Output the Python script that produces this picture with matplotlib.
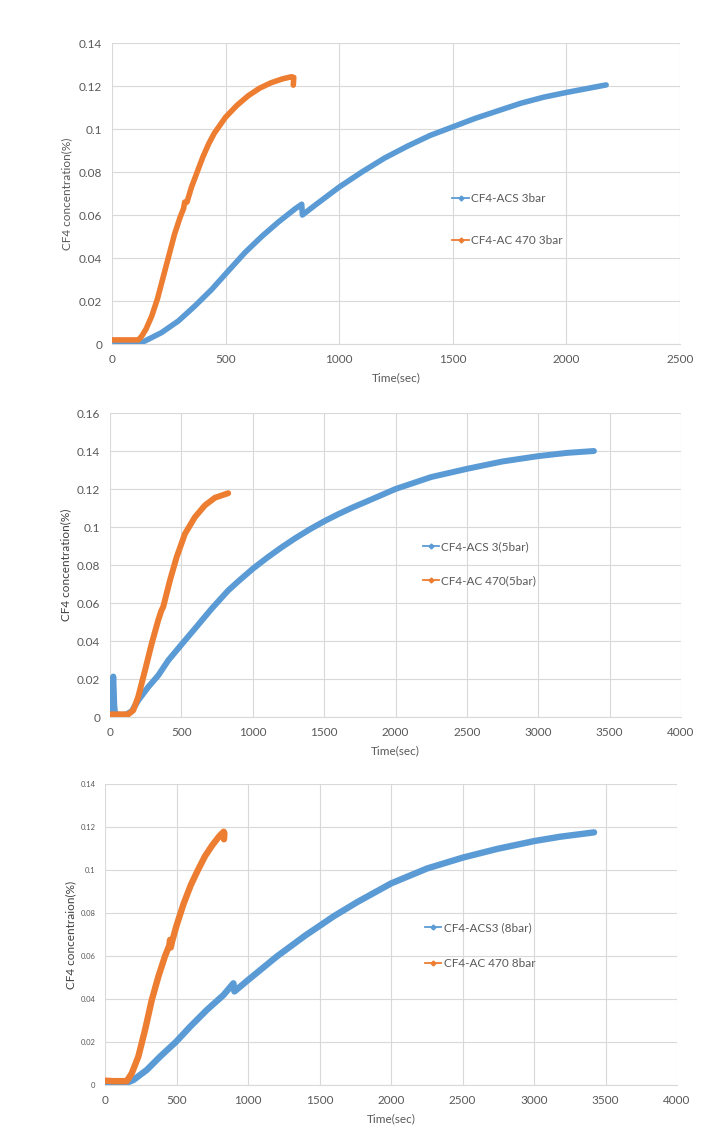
import matplotlib
matplotlib.use("Agg")
import matplotlib.pyplot as plt
from matplotlib.lines import Line2D

# ---------------- data ----------------
# Panel 1 (3 bar)
p1_blue_t = [0, 60, 110, 145, 218, 292, 365, 439, 512, 585, 659, 732, 805, 835, 838, 893,
             1000, 1100, 1200, 1300, 1400, 1500, 1600, 1700, 1800, 1900, 2000, 2100, 2175]
p1_blue_c = [0.0014, 0.0008, 0.0003, 0.0014, 0.0053, 0.0107, 0.0177, 0.0254, 0.0340, 0.0425,
             0.0500, 0.0567, 0.0628, 0.0650, 0.0600, 0.0645, 0.0730, 0.0800, 0.0865, 0.0920,
             0.0970, 0.1010, 0.1050, 0.1085, 0.1120, 0.1148, 0.1170, 0.1190, 0.1205]
p1_orange_t = [0, 60, 116, 130, 150, 175, 200, 225, 250, 275, 300, 315, 320, 330, 350, 375,
               400, 425, 450, 500, 550, 600, 650, 700, 750, 790, 800, 798]
p1_orange_c = [0.0019, 0.0019, 0.0019, 0.0035, 0.0070, 0.0130, 0.0210, 0.0310, 0.0410, 0.0510,
               0.0590, 0.0630, 0.0660, 0.0660, 0.0730, 0.0800, 0.0870, 0.0930, 0.0980, 0.1055,
               0.1110, 0.1155, 0.1190, 0.1215, 0.1233, 0.1243, 0.1240, 0.1204]

# Panel 2 (5 bar)
p2_blue_t = [0, 15, 20, 23, 26, 30, 36, 60, 110, 152, 198, 268, 338, 408, 506, 595, 712, 828,
             900, 1000, 1100, 1200, 1300, 1400, 1500, 1600, 1700, 1800, 2000, 2250, 2500,
             2750, 3000, 3200, 3390]
p2_blue_c = [0.0014, 0.0030, 0.0160, 0.0213, 0.0150, 0.0060, 0.0020, 0.0012, 0.0012, 0.0030,
             0.0088, 0.0158, 0.0219, 0.0298, 0.0386, 0.0465, 0.0570, 0.0666, 0.0715, 0.0780,
             0.0838, 0.0892, 0.0942, 0.0988, 0.1030, 0.1068, 0.1103, 0.1135, 0.1200, 0.1263,
             0.1306, 0.1345, 0.1373, 0.1390, 0.1400]
p2_orange_t = [0, 60, 128, 163, 198, 245, 292, 338, 360, 373, 420, 467, 525, 595, 665, 735,
               828]
p2_orange_c = [0.0014, 0.0014, 0.0014, 0.0035, 0.0107, 0.0245, 0.0386, 0.0510, 0.0560, 0.0580,
               0.0719, 0.0842, 0.0964, 0.1052, 0.1114, 0.1154, 0.1178]

# Panel 3 (8 bar)
p3_blue_t = [0, 60, 128, 198, 292, 385, 497, 595, 712, 828, 898, 905, 1000, 1200, 1400, 1500,
             1600, 1762, 2002, 2252, 2504, 2742, 3005, 3185, 3420]
p3_blue_c = [0.0004, 0.0004, 0.0004, 0.0023, 0.0070, 0.0132, 0.0201, 0.0271, 0.0349, 0.0418,
             0.0473, 0.0435, 0.0488, 0.0597, 0.0695, 0.0740, 0.0785, 0.0850, 0.0938, 0.1007,
             0.1058, 0.1098, 0.1135, 0.1155, 0.1175]
p3_orange_t = [0, 60, 152, 187, 233, 280, 327, 373, 420, 450, 455, 460, 470, 502, 548, 600,
               650, 700, 750, 800, 830, 835, 832]
p3_orange_c = [0.0020, 0.0018, 0.0018, 0.0054, 0.0132, 0.0256, 0.0395, 0.0504, 0.0600, 0.0650,
               0.0675, 0.0640, 0.0670, 0.0745, 0.0840, 0.0930, 0.1000, 0.1065, 0.1115, 0.1158,
               0.1178, 0.1170, 0.1143]

labels1 = ["CF4-ACS 3bar", "CF4-AC 470 3bar"]
labels2 = ["CF4-ACS 3(5bar)", "CF4-AC 470(5bar)"]
labels3 = ["CF4-ACS3 (8bar)", "CF4-AC 470 8bar"]
ylabels = ["CF4 concentration(%)", "CF4 concentration(%)", "CF4 concentraion(%)"]
xlabel = "Time(sec)"

# ---------------- style ----------------
plt.rcParams['font.family'] = ['Lato', 'DejaVu Sans']
BLUE = "#5B9BD5"
ORANGE = "#ED7D31"
GRID = "#D9D9D9"
TXT = "#595959"

fig = plt.figure(figsize=(7.28, 11.27), dpi=100)

W, H = 728.0, 1127.0
def axbox(l, r, t, b):
    return [l / W, 1 - b / H, (r - l) / W, (b - t) / H]

panels = [
    dict(box=axbox(112, 680, 43, 344), xmax=2500, ymax=0.14, lw=4.0,
         data=[(p1_blue_t, p1_blue_c), (p1_orange_t, p1_orange_c)], labels=labels1,
         ylab=ylabels[0], ytick_fs=8.5, ylab_color=TXT, ylab_px=67,
         leg=(0.589, 0.521), legsp=2.6, xlab_px=378),
    dict(box=axbox(110, 681, 413, 717), xmax=4000, ymax=0.16, lw=4.3,
         data=[(p2_blue_t, p2_blue_c), (p2_orange_t, p2_orange_c)], labels=labels2,
         ylab=ylabels[1], ytick_fs=8.5, ylab_color="#404040", ylab_px=66,
         leg=(0.537, 0.597), legsp=1.92, xlab_px=751),
    dict(box=axbox(105, 677, 784, 1085), xmax=4000, ymax=0.14, lw=4.6,
         data=[(p3_blue_t, p3_blue_c), (p3_orange_t, p3_orange_c)], labels=labels3,
         ylab=ylabels[2], ytick_fs=5.5, ylab_color="#404040", ylab_px=71,
         leg=(0.549, 0.561), legsp=2.14, xlab_px=1119),
]

for p in panels:
    ax = fig.add_axes(p["box"])
    l, b, w, h = p["box"]
    (bt, bc), (ot, oc) = p["data"]
    ax.plot(bt, bc, color=BLUE, lw=p["lw"], solid_capstyle='round', solid_joinstyle='round', zorder=3)
    ax.plot(ot, oc, color=ORANGE, lw=p["lw"], solid_capstyle='round', solid_joinstyle='round', zorder=4)
    ax.set_xlim(0, p["xmax"])
    ax.set_ylim(0, p["ymax"])
    xt = list(range(0, p["xmax"] + 1, 500))
    ax.set_xticks(xt)
    ax.set_xticklabels([str(v) for v in xt])
    n = int(round(p["ymax"] / 0.02))
    yt = [round(i * 0.02, 2) for i in range(n + 1)]
    ax.set_yticks(yt)
    ax.set_yticklabels(["0" if v == 0 else ("%g" % v) for v in yt])
    ax.grid(True, color=GRID, lw=0.8)
    ax.set_axisbelow(True)
    for s in ["top", "right", "left"]:
        ax.spines[s].set_visible(False)
    ax.spines["bottom"].set_color(GRID)
    ax.spines["bottom"].set_linewidth(0.8)
    ax.tick_params(axis='both', length=0, colors=TXT)
    ax.tick_params(axis='x', labelsize=8.5, pad=7)
    ax.tick_params(axis='y', labelsize=p["ytick_fs"], pad=7)
    ax.set_xlabel(xlabel, fontsize=8.5, color=TXT)
    xlab_y = ((1 - p["xlab_px"] / H) - b) / h
    ax.xaxis.set_label_coords(0.5, xlab_y)
    ax.xaxis.label.set_verticalalignment('center')
    ax.set_ylabel(p["ylab"], fontsize=8.5, color=p["ylab_color"])
    ylab_x = (p["ylab_px"] / W - l) / w
    ax.yaxis.set_label_coords(ylab_x, 0.5)
    ax.yaxis.label.set_verticalalignment('center')
    handles = [Line2D([0], [0], color=BLUE, lw=1.3, marker='D', ms=2.5),
               Line2D([0], [0], color=ORANGE, lw=1.3, marker='D', ms=2.5)]
    ax.legend(handles, p["labels"], loc='upper left', bbox_to_anchor=p["leg"], frameon=False,
              fontsize=8.5, labelcolor=TXT, handlelength=1.4, handletextpad=0.2,
              labelspacing=p["legsp"], borderpad=0)

fig.savefig("out.png", dpi=100, facecolor="white")
